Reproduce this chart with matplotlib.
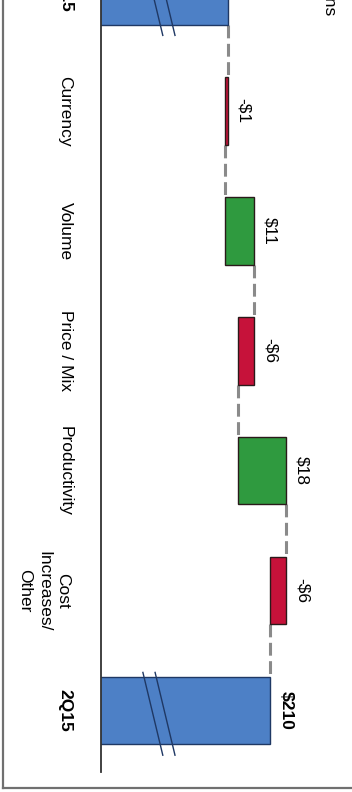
import matplotlib
matplotlib.use("Agg")
import matplotlib.pyplot as plt
from matplotlib.lines import Line2D

plt.rcParams['font.family'] = ['Liberation Sans', 'DejaVu Sans']

categories = ["1Q15", "Currency", "Volume", "Price / Mix", "Productivity", "Cost\nIncreases/\nOther", "2Q15"]
start_value = 194
changes = [-1, 11, -6, 18, -6]
end_value = 210
value_labels = ["$194", "-$1", "$11", "-$6", "$18", "-$6", "$210"]

blue = "#4d80c6"
green = "#2f9a3f"
red = "#c6123a"

# running totals for the waterfall
lefts = [0]
widths = [start_value]
colors = [blue]
level = start_value
for d in changes:
    lefts.append(min(level, level + d))
    widths.append(abs(d))
    colors.append(green if d > 0 else red)
    level += d
lefts.append(0)
widths.append(end_value)
colors.append(blue)

W, H = 352, 792
fig = plt.figure(figsize=(W / 100, H / 100), dpi=100)
ax = fig.add_axes([101 / W, 20 / H, (W - 101) / W, 772 / H])

ys = list(range(len(categories)))
h = 0.56
edges = ["#1f3864"] + ["#2a1a1a"] * len(changes) + ["#1f3864"]
ax.barh(ys, widths, left=lefts, height=h, color=colors, edgecolor=edges, linewidth=1.0, zorder=2)

# dashed connectors between bars
level = start_value
for i, d in enumerate(changes + [0]):
    ax.plot([level, level], [i + h / 2, i + 1 - h / 2], color="#8a8a8a", lw=2.2,
            linestyle=(0, (4.2, 1.8)), zorder=1)
    level += d

# break marks on the total bars
for i in [0, len(categories) - 1]:
    for x0 in [162.0, 166.6]:
        ax.plot([x0, x0 + 7.5], [i - 0.32, i + 0.37], color="#1f3864", lw=1.0, zorder=3)

# value labels
for i in range(len(categories)):
    top = lefts[i] + widths[i]
    bold = i in (0, len(categories) - 1)
    ax.annotate(value_labels[i], (top, i), xytext=(6, 0), textcoords="offset points",
                ha="left", va="center", rotation=-90, fontsize=12.5,
                fontweight="bold" if bold else "normal", zorder=4)

# category labels
trans = ax.get_yaxis_transform()
for i, c in enumerate(categories):
    bold = i in (0, len(categories) - 1)
    if "\n" in c:
        ax.text((70 - 101) / 251, i, c, transform=trans, ha="right", va="center", rotation=-90,
                fontsize=12.5, multialignment="center", linespacing=1.33)
    else:
        ax.text(-0.143, i, c, transform=trans, ha="center", va="center", rotation=-90,
                fontsize=12.5, fontweight="bold" if bold else "normal")

ax.set_xlim(146.2, 146.2 + (W - 101) / 2.652)
ax.set_ylim(6.51, 0.075)
for s in ["top", "right", "bottom"]:
    ax.spines[s].set_visible(False)
ax.spines["left"].set_color("#333333")
ax.spines["left"].set_linewidth(1.3)
ax.set_xticks([])
ax.set_yticks([])
ax.patch.set_alpha(0)

fig.text(330 / W, 1 - 15 / H, "$ in millions", rotation=-90, ha="center", va="bottom", fontsize=12.5)

# outer frame
fig.add_artist(Line2D([3 / W, 3 / W], [4 / H, 1.0], color="#707070", lw=1.6))
fig.add_artist(Line2D([3 / W, 1.0], [4 / H, 4 / H], color="#707070", lw=1.6))

fig.savefig("out.png", dpi=100)
